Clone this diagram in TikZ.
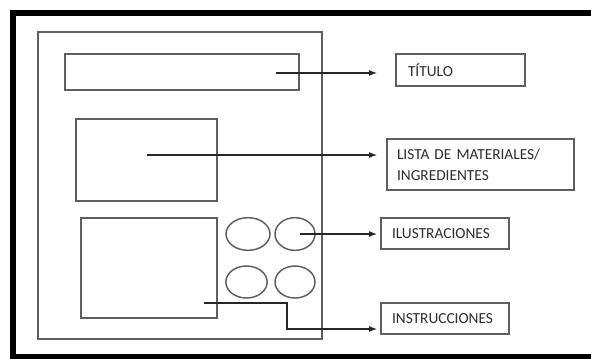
\documentclass[tikz,border=0pt]{standalone}
\usepackage{fontspec}
\setmainfont{Carlito}
\usepackage{xcolor}
\definecolor{boxgray}{RGB}{95,95,95}
\definecolor{txtgray}{RGB}{45,45,45}
\usetikzlibrary{arrows.meta,positioning,shapes.geometric}

\begin{document}
\begin{tikzpicture}[
  x=0.75pt, y=-0.75pt,
  every node/.style={font=\fontsize{11.5}{15.75}\selectfont,text=txtgray},
  sketchbox/.style={draw=boxgray,line width=1.1pt,minimum width=#1,inner sep=0pt},
  labelbox/.style={draw=boxgray,line width=1.1pt,align=left,inner ysep=2pt},
  oval/.style={ellipse,draw=boxgray,line width=1.1pt,inner sep=0pt},
  pointer/.style={-{Latex[length=6pt,width=4.5pt]},draw=black!85,line width=0.8pt},
]
  \useasboundingbox (0,0) rectangle (591,358);
  \clip (0,0) rectangle (591,358);
  \fill[white] (0,0) rectangle (591,358);

  % Outer frame
  \draw[line width=4.5pt] (13,13) rectangle (610,356.5);

  % Page sketch
  \node[sketchbox=213pt,minimum height=230.25pt] (page) at (180,185.5) {};
  \node[sketchbox=175.5pt,minimum height=27pt] (title) at (182,72) {};
  \node[sketchbox=105.75pt,minimum height=61.5pt] (materials) at (146.5,160) {};
  \node[sketchbox=102pt,minimum height=75pt] (steps) at (149,268) {};
  \node[oval,minimum width=33pt,minimum height=24.5pt] (pic1) at (248,234) {};
  \node[oval,minimum width=30pt,minimum height=24.5pt] (pic2) at (295,234) {};
  \node[oval,minimum width=31pt,minimum height=24pt] (pic3) at (246.5,282) {};
  \node[oval,minimum width=30pt,minimum height=24pt] (pic4) at (295,282) {};

  % Labels
  \node[labelbox,text width=78.75pt,inner xsep=9pt,minimum height=24pt] (lbltitle) at (460.5,70) {TÍTULO};
  \node[labelbox,text width=125.25pt,inner xsep=7.5pt,minimum height=38.25pt] (lblmat) at (480.5,164.5)
    {LISTA DE MATERIALES/\\INGREDIENTES};
  \node[labelbox,text width=79.5pt,inner xsep=8.25pt,minimum height=23.25pt] (lblpics) at (445,233.5) {ILUSTRACIONES};
  \node[labelbox,text width=79.5pt,inner xsep=8.25pt,minimum height=23.25pt] (lblsteps) at (445,318.5) {INSTRUCCIONES};

  % Pointers
  \coordinate (titlein) at (276,73);
  \coordinate (titleout) at (377,73);
  \coordinate (matin) at (147,155);
  \coordinate (matout) at (377,155);
  \coordinate (picsin) at (300,234);
  \coordinate (picsout) at (377,234);
  \coordinate (stepsin) at (204,303);
  \coordinate (stepsbend) at (287,303);
  \coordinate (stepsout) at (377,329);

  \draw[pointer] (titlein) -- (titleout);
  \draw[pointer] (matin) -- (matout);
  \draw[pointer] (picsin) -- (picsout);
  \draw[pointer] (stepsin) -- (stepsbend) |- (stepsout);
\end{tikzpicture}
\end{document}
